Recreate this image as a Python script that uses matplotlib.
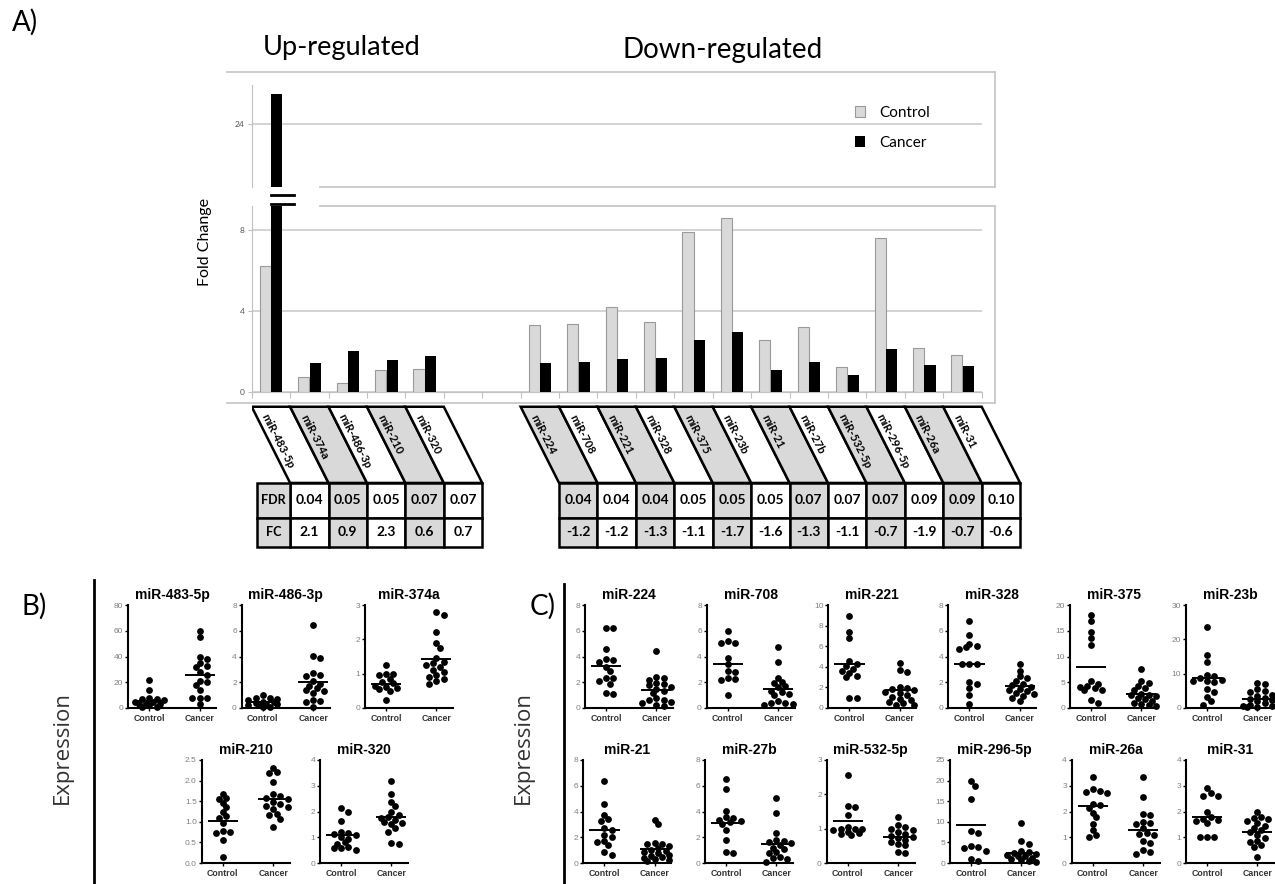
import numpy as np
import matplotlib
matplotlib.use('Agg')
import matplotlib.pyplot as plt
import matplotlib.transforms as mtransforms
from matplotlib.patches import Polygon, Rectangle
from matplotlib.lines import Line2D
from matplotlib.ticker import FormatStrFormatter

W, H = 1275, 884
plt.rcParams['font.family'] = ['Lato', 'DejaVu Sans']
ARIAL = ['Liberation Sans', 'DejaVu Sans']

# ---------------- Panel A data ----------------
up_mirs = ['miR-483-5p', 'miR-374a', 'miR-486-3p', 'miR-210', 'miR-320']
down_mirs = ['miR-224', 'miR-708', 'miR-221', 'miR-328', 'miR-375', 'miR-23b',
             'miR-21', 'miR-27b', 'miR-532-5p', 'miR-296-5p', 'miR-26a', 'miR-31']
up_control = [6.2, 0.74, 0.44, 1.07, 1.12]
up_cancer = [25.5, 1.4, 2.02, 1.56, 1.79]
down_control = [3.3, 3.35, 4.21, 3.46, 7.92, 8.6, 2.58, 3.18, 1.22, 7.62, 2.16, 1.81]
down_cancer = [1.42, 1.47, 1.63, 1.67, 2.58, 2.94, 1.09, 1.47, 0.82, 2.09, 1.31, 1.26]
up_fdr = ['0.04', '0.05', '0.05', '0.07', '0.07']
up_fc = ['2.1', '0.9', '2.3', '0.6', '0.7']
down_fdr = ['0.04', '0.04', '0.04', '0.05', '0.05', '0.05', '0.07', '0.07', '0.07', '0.09', '0.09', '0.10']
down_fc = ['-1.2', '-1.2', '-1.3', '-1.1', '-1.7', '-1.6', '-1.3', '-1.1', '-0.7', '-1.9', '-0.7', '-0.6']

# ---------------- Panel B / C scatter data ----------------
ctrl_483 = [22, 14, 8, 7, 7, 6, 5, 5, 4, 3, 3, 2, 1, 1]
canc_483 = [60, 55, 40, 38, 35, 33, 32, 28, 26, 21, 20, 18, 14, 8, 8, 8, 3]
ctrl_486 = [1.0, 0.8, 0.75, 0.7, 0.6, 0.5, 0.5, 0.4, 0.3, 0.3, 0.2, 0.2, 0.1, 0.1]
canc_486 = [6.45, 4.05, 3.85, 2.7, 2.6, 2.5, 2.1, 1.9, 1.7, 1.55, 1.4, 1.3, 1.2, 0.65, 0.55, 0.5, 0.05]
ctrl_374 = [1.25, 0.98, 0.98, 0.95, 0.85, 0.75, 0.72, 0.65, 0.62, 0.58, 0.55, 0.5, 0.22]
canc_374 = [2.8, 2.72, 2.2, 1.88, 1.75, 1.45, 1.35, 1.3, 1.25, 1.2, 1.1, 1.05, 0.95, 0.9, 0.85, 0.78, 0.7]
ctrl_210 = [1.67, 1.57, 1.55, 1.45, 1.35, 1.25, 1.15, 1.1, 0.98, 0.77, 0.75, 0.72, 0.57, 0.15]
canc_210 = [2.3, 2.2, 2.18, 1.97, 1.67, 1.62, 1.58, 1.55, 1.47, 1.42, 1.38, 1.35, 1.3, 1.2, 1.17, 1.08, 0.87]
ctrl_320 = [2.12, 1.98, 1.63, 1.22, 1.18, 1.12, 1.08, 1.0, 0.95, 0.8, 0.75, 0.62, 0.58, 0.5, 0.6]
canc_320 = [3.18, 2.68, 2.38, 2.2, 1.97, 1.88, 1.8, 1.75, 1.68, 1.6, 1.55, 1.5, 1.35, 1.22, 0.77, 0.75]

ctrl_224 = [6.2, 6.2, 4.6, 3.8, 3.7, 3.6, 3.2, 2.9, 2.3, 2.3, 2.1, 1.9, 1.15, 1.1]
canc_224 = [4.4, 2.4, 2.3, 2.2, 1.95, 1.85, 1.75, 1.6, 1.45, 1.35, 1.15, 0.8, 0.65, 0.5, 0.4, 0.25, 0.15, 0.6]
ctrl_708 = [6.0, 5.2, 5.05, 5.05, 3.9, 3.4, 2.9, 2.8, 2.3, 2.25, 2.15, 1.0]
canc_708 = [4.7, 3.55, 2.35, 2.05, 1.95, 1.7, 1.6, 1.35, 1.25, 1.1, 1.0, 0.55, 0.4, 0.35, 0.3, 0.25]
ctrl_221 = [8.9, 7.4, 6.8, 4.6, 4.3, 4.1, 3.8, 3.6, 3.4, 3.1, 3.0, 1.0, 1.0]
canc_221 = [4.4, 3.7, 3.5, 2.0, 1.9, 1.8, 1.7, 1.6, 1.45, 1.3, 1.1, 0.9, 0.8, 0.6, 0.45, 0.3, 0.3]
ctrl_328 = [6.75, 5.65, 5.0, 4.8, 4.7, 4.6, 3.45, 3.4, 3.4, 2.0, 1.9, 1.55, 1.0, 0.3]
canc_328 = [3.4, 2.9, 2.45, 2.3, 2.1, 1.85, 1.75, 1.6, 1.5, 1.4, 1.3, 1.2, 1.05, 0.95, 0.8, 0.55]
ctrl_375 = [18.0, 16.9, 14.8, 13.5, 12.3, 5.2, 4.6, 4.2, 4.0, 3.8, 3.5, 3.4, 1.6, 1.0]
canc_375 = [7.6, 5.2, 4.9, 4.2, 3.9, 3.4, 2.7, 2.6, 2.5, 2.3, 2.0, 1.7, 1.3, 1.0, 0.7, 0.5, 0.4]
ctrl_23b = [23.7, 15.4, 13.3, 9.6, 9.2, 8.8, 8.3, 8.0, 7.8, 7.6, 5.4, 4.8, 3.3, 1.9, 1.0]
canc_23b = [7.3, 7.1, 5.4, 5.0, 4.8, 3.9, 3.6, 3.0, 2.6, 2.2, 1.9, 1.4, 1.0, 0.7, 0.5, 0.4, 0.3]
ctrl_21 = [6.35, 4.6, 3.75, 3.45, 3.3, 2.75, 2.6, 2.15, 2.0, 1.7, 1.6, 1.4, 0.85, 0.6]
canc_21 = [3.35, 3.05, 1.55, 1.5, 1.45, 1.3, 1.15, 1.0, 0.9, 0.85, 0.75, 0.65, 0.55, 0.45, 0.35, 0.3, 0.2, 0.15]
ctrl_27b = [6.5, 5.75, 4.05, 3.55, 3.5, 3.35, 3.25, 3.15, 3.0, 2.55, 1.75, 0.85, 0.75]
canc_27b = [5.05, 3.85, 2.35, 1.75, 1.7, 1.65, 1.55, 1.4, 1.2, 1.1, 0.85, 0.75, 0.5, 0.35, 0.3, 0.1]
ctrl_532 = [2.55, 1.65, 1.62, 1.4, 1.05, 1.0, 1.0, 0.98, 0.95, 0.9, 0.88, 0.85, 0.82]
canc_532 = [1.35, 1.1, 1.05, 1.0, 0.95, 0.9, 0.85, 0.8, 0.75, 0.72, 0.68, 0.62, 0.55, 0.52, 0.32, 0.3]
ctrl_296 = [20.0, 18.8, 15.5, 7.8, 7.3, 4.1, 3.9, 3.7, 3.0, 0.9, 0.4]
canc_296 = [9.7, 5.3, 4.5, 2.8, 2.6, 2.4, 2.2, 2.0, 1.8, 1.6, 1.3, 1.0, 0.7, 0.5, 0.2]
ctrl_26a = [3.35, 2.88, 2.8, 2.75, 2.72, 2.3, 2.25, 2.15, 1.95, 1.8, 1.5, 1.27, 1.1, 1.0]
canc_26a = [3.35, 2.55, 1.92, 1.88, 1.58, 1.55, 1.5, 1.35, 1.18, 1.12, 1.08, 0.85, 0.78, 0.5, 0.42, 0.36]
ctrl_31 = [2.9, 2.7, 2.62, 2.6, 1.98, 1.8, 1.72, 1.68, 1.62, 1.55, 1.0, 1.0, 1.0]
canc_31 = [1.97, 1.8, 1.75, 1.7, 1.62, 1.55, 1.45, 1.35, 1.3, 1.2, 1.1, 0.97, 0.85, 0.8, 0.7, 0.62, 0.23]

b_names = ['miR-483-5p', 'miR-486-3p', 'miR-374a', 'miR-210', 'miR-320']
b_ctrl = [ctrl_483, ctrl_486, ctrl_374, ctrl_210, ctrl_320]
b_canc = [canc_483, canc_486, canc_374, canc_210, canc_320]
b_mean_ctrl = [5.7, 0.45, 0.71, 1.02, 1.1]
b_mean_canc = [25.8, 2.0, 1.42, 1.55, 1.79]
b_ymax = [80, 8, 3, 2.5, 4]
b_step = [20, 2, 1, 0.5, 1]

c_names = ['miR-224', 'miR-708', 'miR-221', 'miR-328', 'miR-375', 'miR-23b',
           'miR-21', 'miR-27b', 'miR-532-5p', 'miR-296-5p', 'miR-26a', 'miR-31']
c_ctrl = [ctrl_224, ctrl_708, ctrl_221, ctrl_328, ctrl_375, ctrl_23b,
          ctrl_21, ctrl_27b, ctrl_532, ctrl_296, ctrl_26a, ctrl_31]
c_canc = [canc_224, canc_708, canc_221, canc_328, canc_375, canc_23b,
          canc_21, canc_27b, canc_532, canc_296, canc_26a, canc_31]
c_mean_ctrl = [3.3, 3.4, 4.25, 3.43, 8.0, 8.7, 2.6, 3.14, 1.22, 9.2, 2.2, 1.8]
c_mean_canc = [1.42, 1.5, 1.77, 1.68, 2.7, 2.7, 1.12, 1.45, 0.76, 2.5, 1.27, 1.21]
c_ymax = [8, 8, 10, 8, 20, 30, 8, 8, 3, 25, 4, 4]
c_step = [2, 2, 2, 2, 5, 10, 2, 2, 1, 5, 1, 1]

fig = plt.figure(figsize=(W / 100, H / 100), dpi=100)
fig.patch.set_facecolor('white')


def axes_px(left, top, width, height):
    return fig.add_axes([left / W, 1 - (top + height) / H, width / W, height / H])


def line_px(xs, ys, color='#c8c8c8', lw=1.3):
    fig.add_artist(Line2D([x / W for x in xs], [1 - y / H for y in ys],
                          color=color, lw=lw, transform=fig.transFigure))


def text_px(x, y, s, **kw):
    fig.text(x / W, 1 - y / H, s, **kw)


# ---------------- Panel A: bar chart with broken axis ----------------
CAT_W = 730 / 19
up_x = np.arange(len(up_mirs))
down_x = np.arange(len(down_mirs)) + len(up_mirs) + 2
bar_x = np.concatenate([up_x, down_x])
ctrl_vals = up_control + down_control
canc_vals = up_cancer + down_cancer

ax_hi = axes_px(251.7, 85, 730, 102)
ax_lo = axes_px(251.7, 205.7, 730, 186)
for ax in (ax_hi, ax_lo):
    b1 = ax.bar(bar_x - 0.145, ctrl_vals, 0.29, color='#d9d9d9', edgecolor='#9a9a9a', linewidth=0.8, zorder=3)
    b2 = ax.bar(bar_x + 0.155, canc_vals, 0.29, color='black', zorder=3)
    ax.set_xlim(-0.5, 18.5)
    for s in ('top', 'right', 'bottom'):
        ax.spines[s].set_visible(False)
    ax.spines['left'].set_color('#c0c0c0')
    ax.yaxis.grid(True, color='#d0d0d0', lw=1.3)
    ax.set_axisbelow(True)
    ax.tick_params(axis='y', length=3, color='#c0c0c0', labelsize=6, labelcolor='#555555', pad=2)
ax_hi.set_ylim(20.88, 25.93)
ax_hi.set_yticks([24])
ax_hi.set_xticks([])
ax_lo.set_ylim(0, 9.2)
ax_lo.set_yticks([0, 4, 8])
ax_lo.spines['bottom'].set_visible(True)
ax_lo.spines['bottom'].set_color('#c0c0c0')
ax_lo.set_xticks(np.arange(-0.5, 18.6, 1))
ax_lo.set_xticklabels([])
ax_lo.tick_params(axis='x', length=4, color='#c0c0c0')

# break marks on the tall bar
brk = mtransforms.blended_transform_factory(ax_lo.transData, ax_lo.transAxes)
x0 = up_x[0] + 0.01
for yy in (1.01, 1.058):
    ax_lo.plot([x0, x0 + 0.6], [yy, yy], color='black', lw=2, transform=brk, clip_on=False)

# chart frame
line_px([227, 995], [72, 72])
line_px([995, 995], [72, 187])
line_px([320, 995], [187, 187])
line_px([320, 995], [205.7, 205.7])
line_px([995, 995], [205.7, 403])
line_px([227, 995], [403, 403])

fig.legend([b1, b2], ['Control', 'Cancer'], loc='upper left', bbox_to_anchor=(841 / W, 1 - 92 / H),
           frameon=False, fontsize=11, handlelength=0.7, handleheight=0.7,
           handletextpad=0.9, labelspacing=1.05)

text_px(12, 22, 'A)', fontsize=20, va='center')
text_px(341.5, 47, 'Up-regulated', fontsize=19.5, ha='center', va='center')
text_px(723, 50, 'Down-regulated', fontsize=20, ha='center', va='center')
text_px(205, 242, 'Fold Change', fontsize=11.5, rotation=90, ha='center', va='center')

# ---------------- Panel A: slanted labels and table ----------------
ax_tab = axes_px(251.7, 400, CAT_W * 21, 150)
ax_tab.set_xlim(-0.5, 20.5)
ax_tab.set_ylim(0, 1)
ax_tab.axis('off')
Y_TOP, Y_TAB, Y_MID, Y_BOT = 0.955, 0.447, 0.213, 0.023
GRAY, WHITE = '#d9d9d9', 'white'


def table_group(xs, names, fdr, fc, first_gray):
    for k, i in enumerate(xs):
        col = GRAY if (k % 2 == 0) == first_gray else WHITE
        ax_tab.add_patch(Polygon([(i - 0.5, Y_TOP), (i + 0.5, Y_TOP), (i + 1.5, Y_TAB), (i + 0.5, Y_TAB)],
                                 closed=True, facecolor=col, edgecolor='black', lw=1.8))
        ax_tab.text(i - 0.16, Y_TOP - 0.055, names[k], rotation=-63, rotation_mode='anchor',
                    ha='left', va='center', fontsize=8, fontweight='bold')
        for y0, y1, val in ((Y_MID, Y_TAB, fdr[k]), (Y_BOT, Y_MID, fc[k])):
            ax_tab.add_patch(Rectangle((i + 0.5, y0), 1, y1 - y0, facecolor=col, edgecolor='black', lw=1.8))
            ax_tab.text(i + 1, (y0 + y1) / 2, val, ha='center', va='center', fontsize=10, fontweight='bold')


table_group(up_x, up_mirs, up_fdr, up_fc, first_gray=False)
table_group(down_x, down_mirs, down_fdr, down_fc, first_gray=True)
for y0, y1, lab in ((Y_MID, Y_TAB, 'FDR'), (Y_BOT, Y_MID, 'FC')):
    ax_tab.add_patch(Rectangle((-0.37, y0), 0.87, y1 - y0, facecolor=GRAY, edgecolor='black', lw=1.8))
    ax_tab.text(0.065, (y0 + y1) / 2, lab, ha='center', va='center', fontsize=9, fontweight='bold')


# ---------------- Panels B and C: dot plots ----------------
def swarm(ax, center, values, diam=6.6):
    # simple beeswarm: dense, overlapping like the original GraphPad plots
    xspan = ax.get_xlim()[1] - ax.get_xlim()[0]
    per_px = xspan / ax.get_window_extent().width
    placed = []
    out = np.zeros(len(values))
    step = diam * 0.55
    for j in np.argsort(values)[::-1]:
        py = ax.transData.transform((center, values[j]))[1]
        best, best_d = 0.0, -1
        for n in range(9):
            off = ((n + 1) // 2) * step * (1 if n % 2 else -1)
            d = min([np.hypot(off - ox, py - oy) for ox, oy in placed] + [99])
            if d >= diam * 0.8:
                best = off
                break
            if d > best_d:
                best, best_d = off, d
        placed.append((best, py))
        out[j] = center + best * per_px
    return out


def dot_panel(left, top, height, name, ctrl, canc, m_ctrl, m_canc, ymax, step):
    ax = axes_px(left, top, 88, height)
    ax.set_xlim(0.58, 2.33)
    ax.set_ylim(0, ymax)
    for s in ('top', 'right'):
        ax.spines[s].set_visible(False)
    for s in ('left', 'bottom'):
        ax.spines[s].set_linewidth(1.5)
    ax.set_yticks(np.arange(0, ymax + step / 2, step))
    ax.yaxis.set_major_formatter(FormatStrFormatter('%.1f' if step < 1 else '%d'))
    ax.tick_params(axis='y', length=2.5, width=1, pad=1, labelsize=6, labelcolor='#808080')
    ax.set_xticks([1, 2])
    ax.set_xticklabels(['Control', 'Cancer'], fontsize=6.3, fontweight='bold', color='#333333', family=ARIAL)
    ax.tick_params(axis='x', length=2, width=1, pad=2)
    for lab in ax.get_yticklabels():
        lab.set_family(ARIAL)
    for pos, vals, m in ((1, ctrl, m_ctrl), (2, canc, m_canc)):
        ax.scatter(swarm(ax, pos, vals), vals, s=24, color='black', clip_on=False, zorder=3, linewidths=0)
        ax.hlines(m, pos - 0.3, pos + 0.3, color='black', lw=1.4, zorder=4)
    ax.set_title(name, fontsize=10, fontweight='bold', family=ARIAL, pad=4)
    return ax


b_left = [128.3, 241.7, 365, 201.7, 320]
b_top = [605, 605, 605, 760, 760]
for k in range(len(b_names)):
    dot_panel(b_left[k], b_top[k], 103, b_names[k], b_ctrl[k], b_canc[k],
              b_mean_ctrl[k], b_mean_canc[k], b_ymax[k], b_step[k])

c_left = [585, 706.7, 828.3, 948.3, 1070, 1186, 583.3, 705, 826.7, 950, 1071.7, 1186]
c_top = [605] * 6 + [760] * 6
for k in range(len(c_names)):
    dot_panel(c_left[k], c_top[k], 103, c_names[k], c_ctrl[k], c_canc[k],
              c_mean_ctrl[k], c_mean_canc[k], c_ymax[k], c_step[k])

line_px([93.5, 93.5], [580, 884], color='black', lw=2)
line_px([563.5, 563.5], [584, 884], color='black', lw=2)
text_px(22, 606, 'B)', fontsize=20, va='center')
text_px(530, 606, 'C)', fontsize=20, va='center')
text_px(62, 748, 'Expression', fontsize=16, rotation=90, ha='center', va='center',
        color='#333333', family=['Open Sans', 'DejaVu Sans'])
text_px(523, 748, 'Expression', fontsize=16, rotation=90, ha='center', va='center',
        color='#333333', family=['Open Sans', 'DejaVu Sans'])

fig.savefig('out.png', dpi=100, facecolor='white')
